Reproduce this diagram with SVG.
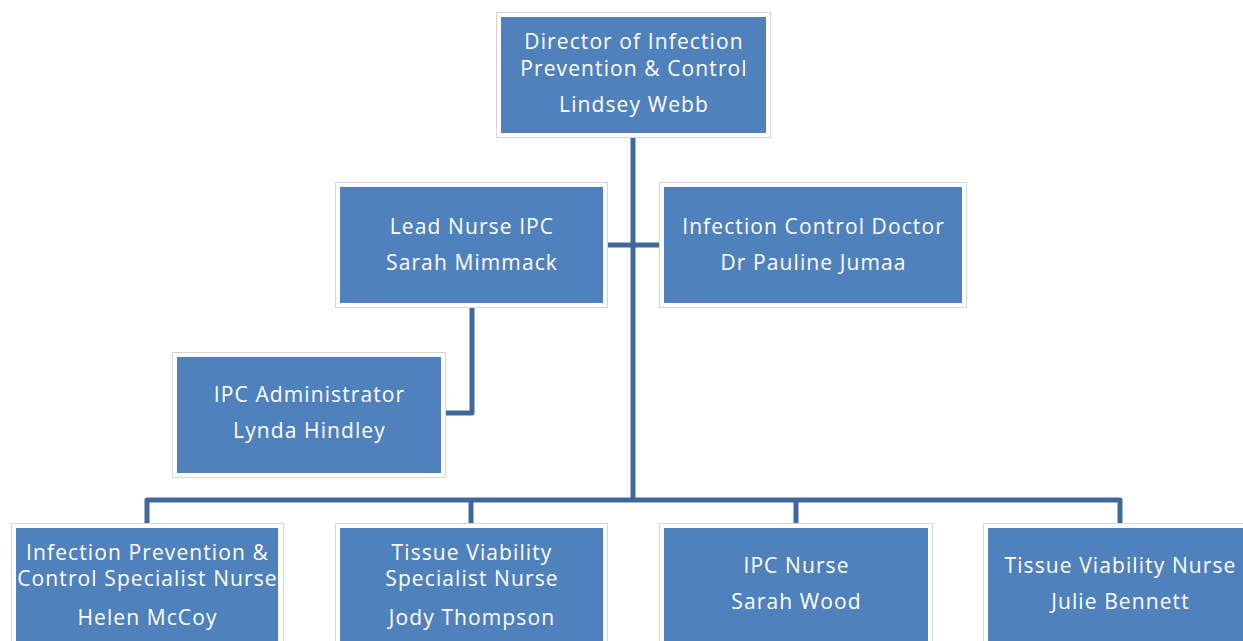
<svg xmlns="http://www.w3.org/2000/svg" width="1243" height="641" viewBox="0 0 1243 641">
<style>
.frame{fill:#ffffff;stroke:#d6d6d6;stroke-width:1}
.box{fill:#4f81bd}
.t{font-family:"Open Sans","Liberation Sans",sans-serif;font-size:21px;letter-spacing:1.1px;fill:#ffffff;text-anchor:middle}
.c{fill:none;stroke:#41689b;stroke-width:5;stroke-linejoin:round}
</style>
<rect width="1243" height="641" fill="#ffffff"/>
<g id="connectors">
<path class="c" d="M633,137 V500"/>
<path class="c" d="M607,245 H659"/>
<path class="c" d="M472,307 V413 H446"/>
<path class="c" d="M147,523 V500 H1120 V523"/>
<path class="c" d="M471,500 V523"/>
<path class="c" d="M796,500 V523"/>
</g>
<g id="director">
<rect class="frame" x="496.5" y="12.5" width="274" height="125"/>
<rect class="box" x="501" y="17" width="265" height="116"/>
<text class="t" x="634" y="49">Director of Infection</text>
<text class="t" x="634" y="76">Prevention &amp; Control</text>
<text class="t" x="634" y="112">Lindsey Webb</text>
</g>
<g id="lead-nurse">
<rect class="frame" x="335.5" y="182.5" width="272" height="125"/>
<rect class="box" x="340" y="187" width="263" height="116"/>
<text class="t" x="472" y="234">Lead Nurse IPC</text>
<text class="t" x="472" y="270">Sarah Mimmack</text>
</g>
<g id="ic-doctor">
<rect class="frame" x="659.5" y="182.5" width="307" height="125"/>
<rect class="box" x="664" y="187" width="298" height="116"/>
<text class="t" x="813.5" y="234">Infection Control Doctor</text>
<text class="t" x="813.5" y="270">Dr Pauline Jumaa</text>
</g>
<g id="ipc-admin">
<rect class="frame" x="172.5" y="352.5" width="273" height="125"/>
<rect class="box" x="177" y="357" width="264" height="116"/>
<text class="t" x="309.5" y="402">IPC Administrator</text>
<text class="t" x="309.5" y="438">Lynda Hindley</text>
</g>
<g id="ipc-specialist">
<rect class="frame" x="11.5" y="523.5" width="272" height="125"/>
<rect class="box" x="16" y="528" width="262" height="116"/>
<text class="t" x="147.5" y="560">Infection Prevention &amp;</text>
<text class="t" x="147.5" y="586">Control Specialist Nurse</text>
<text class="t" x="147.5" y="625">Helen McCoy</text>
</g>
<g id="tv-specialist">
<rect class="frame" x="335.5" y="523.5" width="272" height="125"/>
<rect class="box" x="340" y="528" width="263" height="116"/>
<text class="t" x="472" y="560">Tissue Viability</text>
<text class="t" x="472" y="586">Specialist Nurse</text>
<text class="t" x="472" y="625">Jody Thompson</text>
</g>
<g id="ipc-nurse">
<rect class="frame" x="659.5" y="523.5" width="273" height="125"/>
<rect class="box" x="664" y="528" width="264" height="116"/>
<text class="t" x="796.5" y="573">IPC Nurse</text>
<text class="t" x="796.5" y="609">Sarah Wood</text>
</g>
<g id="tv-nurse">
<rect class="frame" x="983.5" y="523.5" width="273" height="125"/>
<rect class="box" x="988" y="528" width="264" height="116"/>
<text class="t" x="1120.5" y="573">Tissue Viability Nurse</text>
<text class="t" x="1120.5" y="609">Julie Bennett</text>
</g>
</svg>
